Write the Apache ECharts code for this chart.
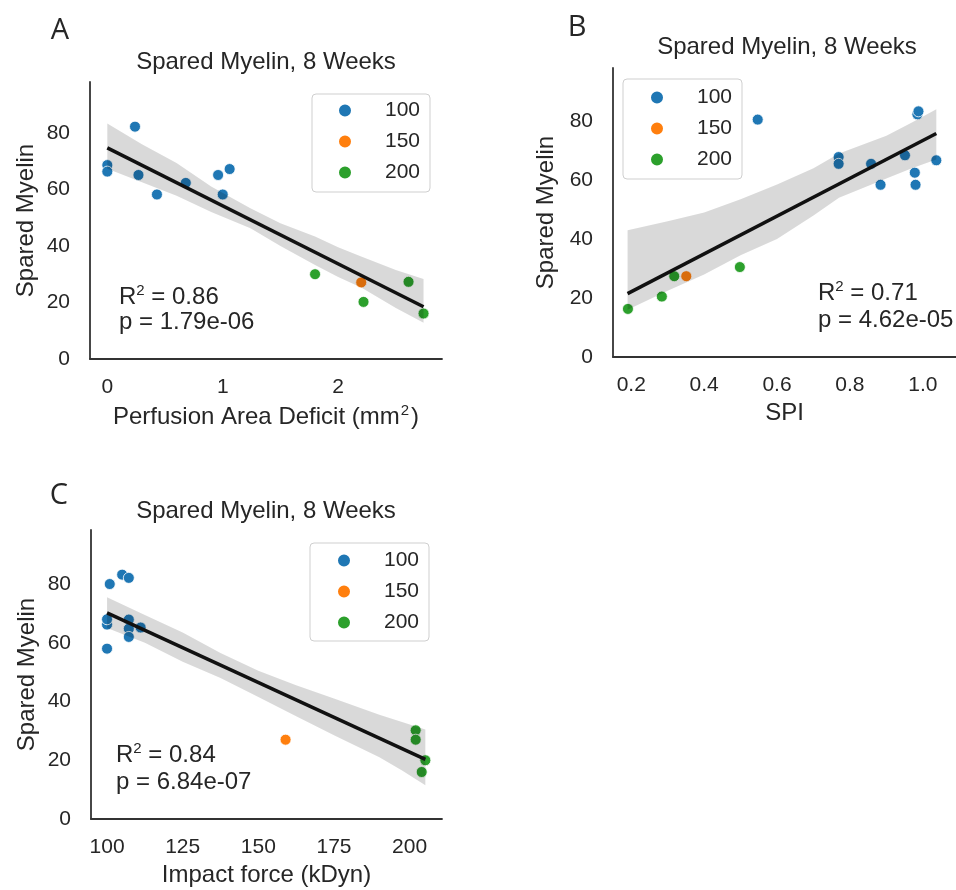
<!DOCTYPE html>
<html>
<head>
<meta charset="utf-8">
<title>Spared Myelin, 8 Weeks</title>
<script src="https://cdn.jsdelivr.net/npm/echarts@6/dist/echarts.min.js"></script>
<style>
  html, body { margin: 0; padding: 0; background: #fff; }
  #chart { width: 956px; height: 890px; }
</style>
</head>
<body>
<div id="chart"></div>
<script>
// values
const groups = ['100', '150', '200']
const groupColors = ['#1f77b4', '#ff7f0e', '#2ca02c']
const yTicks = [0, 20, 40, 60, 80]

// A: perfusion area deficit
const perfTicks = [0, 1, 2]
const perf100 = [[0, 68.6], [0, 66.3], [0.24, 82.2], [0.27, 65.1], [0.43, 58.2], [0.68, 62.3], [0.96, 65.1], [1.0, 58.2], [1.06, 67.2]]
const perf150 = [[2.2, 27.1]]
const perf200 = [[1.8, 30], [2.22, 20.2], [2.61, 27.3], [2.74, 16.1]]
const perfFit = [[0, 74.7], [2.74, 18.5]]
const perfBandX = [0, 0.3, 0.6, 0.9, 1.24, 1.5, 1.8, 2.0, 2.2, 2.5, 2.74]
const perfBandHi = [83.3, 76, 69.3, 61, 53.3, 48, 43.3, 39.5, 36.3, 31.5, 28.3]
const perfBandLo = [67.3, 62.5, 57.8, 52, 46.3, 40, 33.3, 29, 25.3, 18, 12.8]

// B: SPI
const spiTicks = [0.2, 0.4, 0.6, 0.8, 1.0]
const spi100 = [[0.547, 80.5], [0.769, 67.8], [0.769, 65.5], [0.858, 65.5], [0.884, 58.4], [0.951, 68.4], [0.978, 62.5], [0.98, 58.4], [0.985, 82.3], [0.988, 83.3], [1.037, 66.7]]
const spi150 = [[0.351, 27.4]]
const spi200 = [[0.191, 16.3], [0.284, 20.5], [0.318, 27.4], [0.498, 30.5]]
const spiFit = [[0.19, 21.5], [1.037, 75.8]]
const spiBandX = [0.19, 0.3, 0.4, 0.5, 0.6, 0.7, 0.77, 0.9, 0.97, 1.037]
const spiBandHi = [43, 46, 49, 53.5, 58.5, 64, 69, 75, 79.5, 84]
const spiBandLo = [16, 22.5, 28, 34.5, 40, 48, 54, 60.5, 64, 67]

// C: impact force
const forceTicks = [100, 125, 150, 175, 200]
const force100 = [[100, 66.2], [100, 68], [100, 58], [100.9, 80], [105, 83.2], [107.2, 82.1], [107.2, 67.9], [107.2, 64.8], [107.2, 62], [111.1, 65.2]]
const force150 = [[159, 27]]
const force200 = [[202, 30.2], [202, 27], [205.2, 20], [204, 16]]
const forceFit = [[100, 70.2], [205.2, 20.3]]
const forceBandX = [100, 112.5, 125, 137.5, 150, 162.5, 175, 190, 197.5, 205.2]
const forceBandHi = [75.5, 69.5, 63.5, 56.5, 50.5, 45.5, 41, 35.5, 33, 30.5]
const forceBandLo = [65, 60, 53.5, 48, 41.5, 35, 28.5, 21, 16.5, 11.5]

const FONT = 'Liberation Sans, Arial, sans-serif'
const TEXT = '#262626'

const axisX = (gridIndex, min, max, ticks, name, nameGap, fmt) => ({
  type: 'value', gridIndex, min, max, name, nameGap,
  nameLocation: 'middle',
  nameTextStyle: {
    fontSize: 24, fontFamily: FONT, color: TEXT,
    rich: {
      t: { fontSize: 24, fontFamily: FONT, color: TEXT, lineHeight: 28 },
      s: { fontSize: 15, fontFamily: FONT, color: TEXT, lineHeight: 28, verticalAlign: 'top', padding: [0, 2, 0, 1] }
    }
  },
  axisLine: { show: true, onZero: false, lineStyle: { color: '#333', width: 1.8 } },
  axisTick: { show: false },
  splitLine: { show: false },
  axisLabel: { customValues: ticks, fontSize: 21, fontFamily: FONT, color: TEXT, margin: 18, formatter: fmt }
})

const axisY = (gridIndex, max, nameGap) => ({
  type: 'value', gridIndex, min: 0, max, nameGap,
  name: 'Spared Myelin',
  nameLocation: 'middle',
  nameTextStyle: { fontSize: 24, fontFamily: FONT, color: TEXT },
  axisLine: { show: true, onZero: false, lineStyle: { color: '#333', width: 1.8 } },
  axisTick: { show: false },
  splitLine: { show: false },
  axisLabel: { customValues: yTicks, fontSize: 21, fontFamily: FONT, color: TEXT, margin: 20 }
})

const scatter = (idx, name, data) => ({
  type: 'scatter', name, data,
  xAxisIndex: idx, yAxisIndex: idx,
  symbolSize: 11, z: 2,
  itemStyle: { color: groupColors[groups.indexOf(name)], borderColor: '#fff', borderWidth: 0.8, opacity: 1 }
})

const band = (idx, xs, hi, lo) => ({
  type: 'custom', xAxisIndex: idx, yAxisIndex: idx, silent: true, z: 3,
  data: xs.map((x, i) => [x, hi[i], lo[i]]),
  encode: { x: 0, y: [1, 2] },
  renderItem: (params, api) => {
    if (params.dataIndex !== 0) return null
    const top = xs.map((x, i) => api.coord([x, hi[i]]))
    const bottom = xs.map((x, i) => api.coord([x, lo[i]])).reverse()
    return { type: 'polygon', shape: { points: top.concat(bottom) }, style: { fill: 'rgba(0,0,0,0.15)' } }
  }
})

const fitLine = (idx, data) => ({
  type: 'line', data, xAxisIndex: idx, yAxisIndex: idx,
  showSymbol: false, silent: true, z: 4,
  lineStyle: { color: '#111', width: 3.5 }
})

const legend = (left, top, padding) => ({
  data: groups, orient: 'vertical', left, top, padding,
  icon: 'circle', itemWidth: 14, itemHeight: 14, itemGap: 10,
  selectedMode: false,
  backgroundColor: 'rgba(255,255,255,0.85)', borderColor: '#cfcfcf', borderWidth: 1, borderRadius: 4,
  formatter: '{n|{name}}',
  textStyle: { rich: { n: { width: 63, align: 'right', fontSize: 21, lineHeight: 22, fontFamily: FONT, color: TEXT } } }
})

const text = (x, y, t, size, align, family) => ({
  type: 'text', x, y, silent: true,
  style: {
    text: t, textAlign: align || 'left', textVerticalAlign: 'middle',
    fill: TEXT, fontSize: size, fontFamily: family || FONT,
    rich: {
      a: { fontSize: size, fontFamily: FONT, fill: TEXT, lineHeight: size + 4 },
      s: { fontSize: 15, fontFamily: FONT, fill: TEXT, lineHeight: size + 4, verticalAlign: 'top' }
    }
  }
})

const option = {
  backgroundColor: '#fff',
  animation: false,
  grid: [
    { left: 90, top: 82, width: 352, height: 277 },
    { left: 613, top: 68, width: 353, height: 289 },
    { left: 91, top: 530, width: 351, height: 289 }
  ],
  xAxis: [
    axisX(0, -0.15, 2.9, perfTicks, '{t|Perfusion Area Deficit (mm}{s|2}{t|)}', 44),
    axisX(1, 0.15, 1.091, spiTicks, 'SPI', 44, v => v.toFixed(1)),
    axisX(2, 94.7, 210.7, forceTicks, 'Impact force (kDyn)', 44)
  ],
  yAxis: [axisY(0, 98, 52), axisY(1, 98, 55), axisY(2, 98.4, 52)],
  legend: [
    legend(312, 94, [6, 10, 9, 25]),
    legend(623, 79, [8, 10, 9, 26]),
    legend(310, 543, [7, 10, 8, 26])
  ],
  series: [
    scatter(0, '100', perf100), scatter(0, '150', perf150), scatter(0, '200', perf200),
    band(0, perfBandX, perfBandHi, perfBandLo), fitLine(0, perfFit),
    scatter(1, '100', spi100), scatter(1, '150', spi150), scatter(1, '200', spi200),
    band(1, spiBandX, spiBandHi, spiBandLo), fitLine(1, spiFit),
    scatter(2, '100', force100), scatter(2, '150', force150), scatter(2, '200', force200),
    band(2, forceBandX, forceBandHi, forceBandLo), fitLine(2, forceFit)
  ],
  graphic: [
    text(60, 31, 'A', 29, 'center', 'Open Sans'),
    text(577, 28, 'B', 29, 'center', 'Open Sans'),
    text(59, 496, 'C', 29, 'center', 'Open Sans'),
    text(266, 62, 'Spared Myelin, 8 Weeks', 24, 'center'),
    text(787, 47, 'Spared Myelin, 8 Weeks', 24, 'center'),
    text(266, 511, 'Spared Myelin, 8 Weeks', 24, 'center'),
    text(119, 297, '{a|R}{s|2}{a| = 0.86}', 24),
    text(119, 322, 'p = 1.79e-06', 24),
    text(818, 293, '{a|R}{s|2}{a| = 0.71}', 24),
    text(818, 320, 'p = 4.62e-05', 24),
    text(116, 755, '{a|R}{s|2}{a| = 0.84}', 24),
    text(116, 782, 'p = 6.84e-07', 24)
  ]
}

const chart = echarts.init(document.getElementById('chart'))
chart.setOption(option)
</script>
</body>
</html>
